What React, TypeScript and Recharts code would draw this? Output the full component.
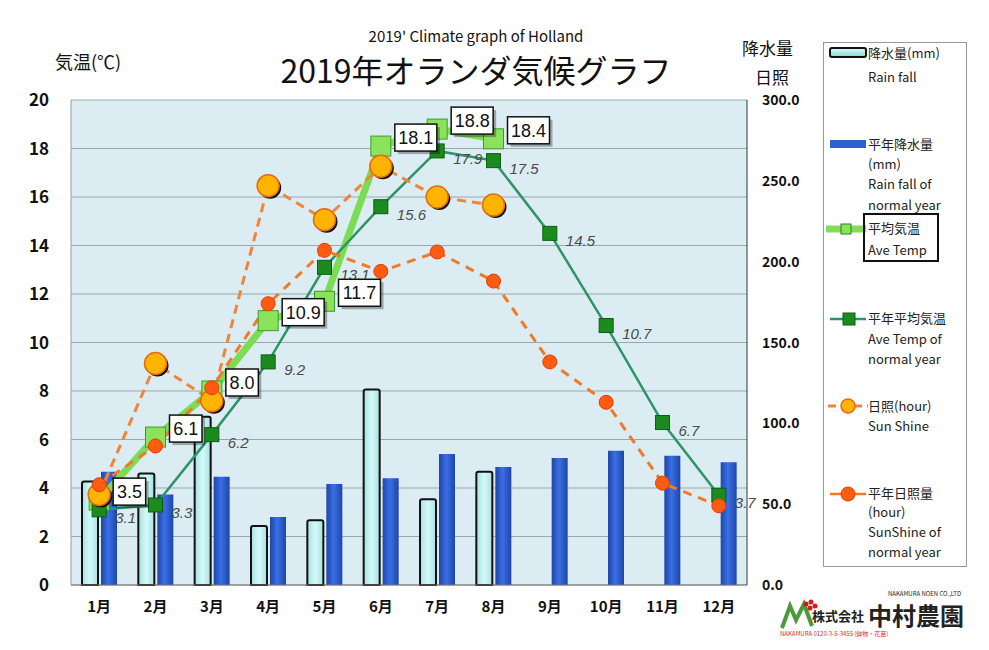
import { ComposedChart, Bar, Line, XAxis, YAxis, CartesianGrid, LabelList } from "recharts";

const MONTHS = ["1月", "2月", "3月", "4月", "5月", "6月", "7月", "8月", "9月", "10月", "11月", "12月"];
const RAIN_2019 = [64, 69, 104, 36.5, 40, 121, 53, 70, null, null, null, null];
const RAIN_NORMAL = [70, 56, 67, 42, 62.5, 66, 81, 73, 78.5, 83, 80, 76];
const TEMP_2019 = [3.5, 6.1, 8.0, 10.9, 11.7, 18.1, 18.8, 18.4, null, null, null, null];
const TEMP_NORMAL = [3.1, 3.3, 6.2, 9.2, 13.1, 15.6, 17.9, 17.5, 14.5, 10.7, 6.7, 3.7];
const SUN_2019 = [56, 137, 114, 247, 226, 259, 240, 235, null, null, null, null];
const SUN_NORMAL = [62, 86, 122, 174, 207, 194, 206, 188, 138, 113, 63, 49];
const LEFT_TICKS = [0, 2, 4, 6, 8, 10, 12, 14, 16, 18, 20];
const RIGHT_TICKS = [0, 50, 100, 150, 200, 250, 300];

const data = MONTHS.map((m, i) => ({
  month: m,
  rain: RAIN_2019[i],
  rainNormal: RAIN_NORMAL[i],
  temp: TEMP_2019[i],
  tempNormal: TEMP_NORMAL[i],
  sun: SUN_2019[i],
  sunNormal: SUN_NORMAL[i],
}));

const FONT = "'Noto Sans CJK JP', 'Noto Sans', sans-serif";

const TempDot = (props: any) => {
  const { cx, cy, value, index } = props;
  if (value == null || cx == null) return <g key={index} />;
  return <rect key={index} x={cx - 10} y={cy - 10} width={20} height={20} fill="#8be35c" stroke="#3f9a2c" strokeWidth={1} />;
};

const NormalTempDot = (props: any) => {
  const { cx, cy, value, index } = props;
  if (value == null || cx == null) return <g key={index} />;
  return <rect key={index} x={cx - 7} y={cy - 7} width={14} height={14} fill="#1b8a1f" stroke="#0d5e10" strokeWidth={1} />;
};

const SunDot = (props: any) => {
  const { cx, cy, value, index } = props;
  if (value == null || cx == null) return <g key={index} />;
  return (
    <g key={index}>
      <circle cx={cx + 2} cy={cy + 2} r={11} fill="#111" />
      <circle cx={cx} cy={cy} r={11} fill="#ffb400" stroke="#e66a12" strokeWidth={1.5} />
    </g>
  );
};

const SunNormalDot = (props: any) => {
  const { cx, cy, value, index } = props;
  if (value == null || cx == null) return <g key={index} />;
  return <circle key={index} cx={cx} cy={cy} r={7} fill="#ff5c12" stroke="#e23c00" strokeWidth={1} />;
};

const TempLabel = (props: any) => {
  const { x, y, value } = props;
  if (value == null) return null;
  const txt = Number(value).toFixed(1);
  const w = txt.length * 9.5 + 4;
  const left = x + 14;
  const top = y - 22;
  return (
    <g>
      <rect x={left + 3} y={top + 3} width={w} height={27} fill="rgba(0,0,0,0.3)" />
      <rect x={left} y={top} width={w} height={27} fill="#fff" stroke="#111" strokeWidth={1.5} />
      <text x={left + w / 2} y={top + 20} textAnchor="middle" fontSize={18} fontFamily="'Liberation Sans', Arial, sans-serif" fill="#111">
        {txt}
      </text>
    </g>
  );
};

const NormalTempLabel = (props: any) => {
  const { x, y, value } = props;
  if (value == null) return null;
  return (
    <text x={x + 16} y={y + 13} fontSize={15} fontStyle="italic" fill="#4a4a4a" fontFamily="'Liberation Sans', Arial, sans-serif">
      {Number(value).toFixed(1)}
    </text>
  );
};

function LegendBox() {
  const text = { position: "absolute" as const, left: 44, fontSize: 13, color: "#222", lineHeight: "20px", whiteSpace: "nowrap" as const };
  return (
    <div
      style={{
        position: "absolute",
        left: 823,
        top: 42,
        width: 142,
        height: 523,
        border: "1px solid #999",
        background: "#fff",
        fontFamily: FONT,
      }}
    >
      <svg width={142} height={523} style={{ position: "absolute", left: 0, top: 0 }}>
        <defs>
          <linearGradient id="lgRain" x1="0" y1="0" x2="0" y2="1">
            <stop offset="0" stopColor="#d8fbfb" />
            <stop offset="1" stopColor="#8fd3d3" />
          </linearGradient>
        </defs>
        <rect x={6} y={5} width={36} height={9} rx={2} fill="url(#lgRain)" stroke="#111" strokeWidth={2} />
        <rect x={6} y={97} width={36} height={8} fill="#2d5fcf" />
        <line x1={2} y1={186} x2={42} y2={186} stroke="#82dd58" strokeWidth={7} />
        <rect x={17} y={181} width={10} height={10} fill="#8be35c" stroke="#2f7a22" strokeWidth={1} />
        <line x1={6} y1={276} x2={42} y2={276} stroke="#2e9468" strokeWidth={2.5} />
        <rect x={19} y={270} width={12} height={12} fill="#1b8a1f" stroke="#0d5e10" />
        <line x1={4} y1={363} x2={44} y2={363} stroke="#f0843a" strokeWidth={3} strokeDasharray="8 5" />
        <circle cx={24} cy={363} r={7} fill="#ffb400" stroke="#e66a12" strokeWidth={1.5} />
        <line x1={6} y1={451} x2={42} y2={451} stroke="#f07a2a" strokeWidth={2.5} />
        <circle cx={24} cy={451} r={7} fill="#ff5c12" stroke="#e23c00" />
        <rect x={40} y={171} width={74} height={47} fill="none" stroke="#111" strokeWidth={2} />
      </svg>
      <div style={{ ...text, top: 0 }}>降水量(mm)</div>
      <div style={{ ...text, top: 24 }}>Rain fall</div>
      <div style={{ ...text, top: 91 }}>平年降水量</div>
      <div style={{ ...text, top: 111 }}>(mm)</div>
      <div style={{ ...text, top: 131 }}>Rain fall of</div>
      <div style={{ ...text, top: 152 }}>normal year</div>
      <div style={{ ...text, top: 175 }}>平均気温</div>
      <div style={{ ...text, top: 197 }}>Ave Temp</div>
      <div style={{ ...text, top: 265 }}>平年平均気温</div>
      <div style={{ ...text, top: 286 }}>Ave Temp of</div>
      <div style={{ ...text, top: 306 }}>normal year</div>
      <div style={{ ...text, top: 353 }}>日照(hour)</div>
      <div style={{ ...text, top: 373 }}>Sun Shine</div>
      <div style={{ ...text, top: 440 }}>平年日照量</div>
      <div style={{ ...text, top: 459 }}>(hour)</div>
      <div style={{ ...text, top: 479 }}>SunShine of</div>
      <div style={{ ...text, top: 499 }}>normal year</div>
    </div>
  );
}

export default function App() {
  return (
    <div style={{ position: "absolute", left: 0, top: 0, width: 989, height: 650, background: "#fff", fontFamily: FONT }}>
      <div style={{ position: "absolute", left: 0, width: 952, top: 27, lineHeight: "18px", textAlign: "center", fontSize: 15, color: "#111" }}>
        2019' Climate graph of Holland
      </div>
      <div style={{ position: "absolute", left: 0, width: 952, top: 50, lineHeight: "38px", textAlign: "center", fontSize: 32, color: "#111" }}>
        2019年オランダ気候グラフ
      </div>
      <div style={{ position: "absolute", left: 55, top: 48, fontSize: 18, color: "#111" }}>気温(℃)</div>
      <div style={{ position: "absolute", left: 742, top: 35, fontSize: 17, color: "#111" }}>降水量</div>
      <div style={{ position: "absolute", left: 755, top: 64, fontSize: 17, color: "#111" }}>日照</div>

      <ComposedChart width={989} height={650} data={data} margin={{ top: 100, right: 182, bottom: 35, left: 31 }} barGap={3}>
        <defs>
          <linearGradient id="rainGrad" x1="0" y1="0" x2="1" y2="0">
            <stop offset="0" stopColor="#a8e0e0" />
            <stop offset="0.5" stopColor="#d4fafa" />
            <stop offset="1" stopColor="#a8e0e0" />
          </linearGradient>
          <linearGradient id="normGrad" x1="0" y1="0" x2="1" y2="0">
            <stop offset="0" stopColor="#1d47a6" />
            <stop offset="0.45" stopColor="#3b6ee6" />
            <stop offset="1" stopColor="#1d47a6" />
          </linearGradient>
        </defs>
        <CartesianGrid yAxisId="left" vertical={false} stroke="#9aa8ae" strokeWidth={1.2} fill="#dbedf3" fillOpacity={1} />
        <XAxis
          dataKey="month"
          height={30}
          axisLine={{ stroke: "#777" }}
          tickLine={false}
          interval={0}
          tick={(p: any) => (
            <text x={p.x} y={612} textAnchor="middle" fontSize={15} fontWeight="bold" fill="#111" fontFamily={FONT}>
              {p.payload.value}
            </text>
          )}
        />
        <YAxis
          yAxisId="left"
          width={40}
          domain={[0, 20]}
          ticks={LEFT_TICKS}
          axisLine={{ stroke: "#999" }}
          tickLine={false}
          tick={(p: any) => (
            <text x={49} y={p.y + 6} textAnchor="end" fontSize={17} fontWeight="bold" fill="#111" fontFamily={FONT}>
              {p.payload.value}
            </text>
          )}
        />
        <YAxis
          yAxisId="right"
          orientation="right"
          width={60}
          domain={[0, 300]}
          ticks={RIGHT_TICKS}
          axisLine={{ stroke: "#333" }}
          tickLine={false}
          tick={(p: any) => (
            <text x={762} y={p.y + 5} textAnchor="start" fontSize={14} fontWeight="bold" fill="#111" fontFamily={FONT}>
              {Number(p.payload.value).toFixed(1)}
            </text>
          )}
        />
        <Bar yAxisId="right" dataKey="rain" barSize={16} fill="url(#rainGrad)" stroke="#111" strokeWidth={2} radius={[2, 2, 0, 0]} isAnimationActive={false} />
        <Bar yAxisId="right" dataKey="rainNormal" barSize={16} fill="url(#normGrad)" isAnimationActive={false} />
        <Line yAxisId="left" dataKey="temp" stroke="#7ddc55" strokeWidth={7} dot={TempDot} activeDot={false} isAnimationActive={false} />
        <Line yAxisId="left" dataKey="tempNormal" stroke="#2e9468" strokeWidth={2.5} dot={NormalTempDot} activeDot={false} isAnimationActive={false}>
          <LabelList dataKey="tempNormal" content={NormalTempLabel} />
        </Line>
        <Line yAxisId="right" dataKey="sun" stroke="#f0843a" strokeWidth={3} strokeDasharray="9 6" dot={SunDot} activeDot={false} isAnimationActive={false} />
        <Line yAxisId="right" dataKey="sunNormal" stroke="#f07a2a" strokeWidth={3} strokeDasharray="9 7" dot={SunNormalDot} activeDot={false} isAnimationActive={false} />
        <Line yAxisId="left" dataKey="temp" stroke="none" dot={false} activeDot={false} isAnimationActive={false}>
          <LabelList dataKey="temp" content={TempLabel} />
        </Line>
      </ComposedChart>

      <LegendBox />

      <div style={{ position: "absolute", left: 778, top: 594, width: 190, height: 44 }}>
        <svg width={40} height={34} style={{ position: "absolute", left: 0, top: 4 }}>
          <path d="M4 30 L12 8 L18 22 L26 6 L34 28" fill="none" stroke="#4a9a3a" strokeWidth={4} />
          <circle cx={28} cy={6} r={2.5} fill="#d21a1a" />
          <circle cx={33} cy={4} r={2.5} fill="#d21a1a" />
          <circle cx={32} cy={10} r={2.5} fill="#d21a1a" />
          <circle cx={37} cy={8} r={2.5} fill="#d21a1a" />
        </svg>
        <div style={{ position: "absolute", left: 110, top: -4, fontSize: 6, lineHeight: "7px", color: "#222", whiteSpace: "nowrap" }}>NAKAMURA NOEN CO.,LTD</div>
        <div style={{ position: "absolute", left: 34, top: 14, fontSize: 13, lineHeight: "16px", fontWeight: "bold", color: "#222" }}>株式会社</div>
        <div style={{ position: "absolute", left: 90, top: 8, fontSize: 24, fontWeight: "bold", color: "#222", lineHeight: "26px" }}>中村農園</div>
        <div style={{ position: "absolute", left: 2, top: 36, fontSize: 6, lineHeight: "7px", color: "#c33", whiteSpace: "nowrap" }}>NAKAMURA 0120-3-5-3455 (鉢物・花苗)</div>
      </div>
    </div>
  );
}
